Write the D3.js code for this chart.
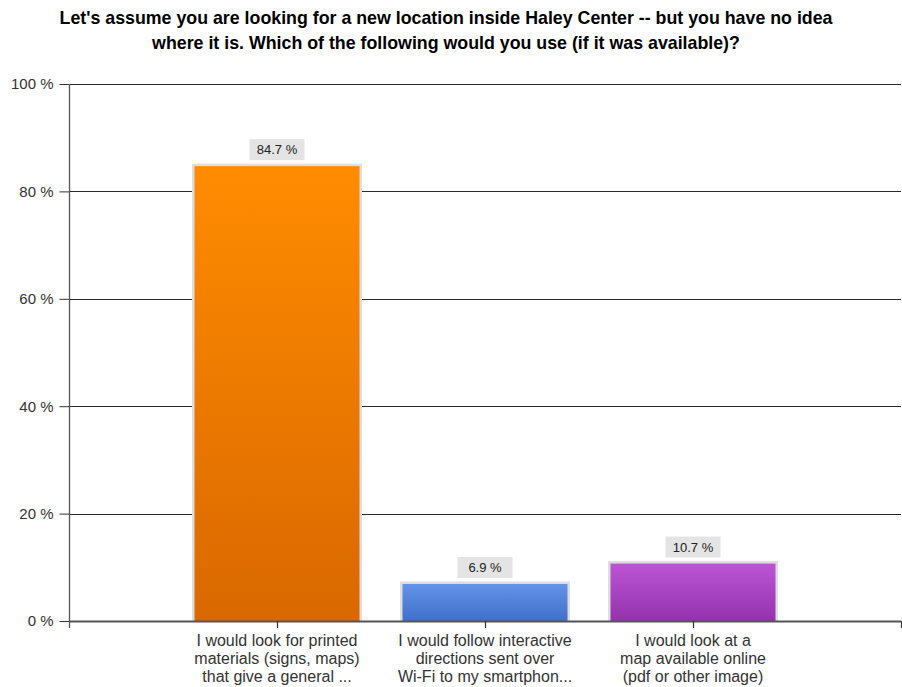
<!DOCTYPE html>
<html>
<head>
<meta charset="utf-8">
<script src="https://cdn.jsdelivr.net/npm/d3@7"></script>
<style>
  html, body { margin: 0; padding: 0; background: #fff; }
  svg { display: block; }
</style>
</head>
<body>
<svg id="chart" width="902" height="687"></svg>
<script>
const titleLines = [
  "Let's assume you are looking for a new location inside Haley Center -- but you have no idea",
  "where it is. Which of the following would you use (if it was available)?"
];
const categories = [
  ["I would look for printed", "materials (signs, maps)", "that give a general ..."],
  ["I would follow interactive", "directions sent over", "Wi-Fi to my smartphon..."],
  ["I would look at a", "map available online", "(pdf or other image)"]
];
const values = [84.7, 6.9, 10.7];
const yTicks = [0, 20, 40, 60, 80, 100];
const barTop = ["#ff8c00", "#6494e8", "#bb55d4"];
const barBottom = ["#d96800", "#3f6fc8", "#9432ad"];

const svg = d3.select("#chart");
const plotL = 69, plotR = 901, plotT = 84, plotB = 621;
const font = "Liberation Sans, Arial, sans-serif";

const ids = categories.map((c, i) => "c" + i);
const x = d3.scalePoint().domain(ids).range([plotL, plotR]).padding(1);
const y = d3.scaleLinear().domain([0, 100]).range([plotB, plotT]);
const barW = 165, rim = 2.5;

// vertical gradients for the bars
const defs = svg.append("defs");
ids.forEach((id, i) => {
  const g = defs.append("linearGradient").attr("id", "g" + i)
    .attr("x1", 0).attr("y1", 0).attr("x2", 0).attr("y2", 1);
  g.append("stop").attr("offset", "0%").attr("stop-color", barTop[i]);
  g.append("stop").attr("offset", "100%").attr("stop-color", barBottom[i]);
});

// title
svg.append("g").selectAll("text").data(titleLines).join("text")
  .attr("x", 446).attr("y", (d, i) => 24 + i * 25)
  .attr("text-anchor", "middle")
  .attr("font-family", font)
  .attr("font-weight", "bold").attr("font-size", 17.8)
  .attr("fill", "#000")
  .text(d => d);

// gridlines
svg.append("g").selectAll("line").data(yTicks.filter(t => t > 0)).join("line")
  .attr("x1", plotL).attr("x2", plotR)
  .attr("y1", d => Math.round(y(d)) + 0.5).attr("y2", d => Math.round(y(d)) + 0.5)
  .attr("stroke", "#2a2a2a").attr("stroke-width", 1.2);

// y axis
const yAxis = d3.axisLeft(y).tickValues(yTicks).tickSize(10).tickPadding(6)
  .tickFormat(d => d + " %");
const yg = svg.append("g").attr("transform", `translate(${plotL + 0.5},0)`).call(yAxis);
yg.select(".domain").remove();
yg.selectAll(".tick line").attr("stroke", "#333");
yg.selectAll(".tick text").attr("font-family", font)
  .attr("font-size", 15).attr("fill", "#333");
svg.append("line").attr("x1", plotL + 0.5).attr("x2", plotL + 0.5)
  .attr("y1", plotT).attr("y2", plotB + 7).attr("stroke", "#555").attr("stroke-width", 1.3);

// bars: light rim behind, gradient fill in front
const bars = svg.append("g");
bars.selectAll("rect.rim").data(values).join("rect").attr("class", "rim")
  .attr("x", (d, i) => x(ids[i]) - barW / 2 - rim)
  .attr("y", d => y(d) - rim)
  .attr("width", barW + 2 * rim)
  .attr("height", d => y(0) - y(d) + rim)
  .attr("fill", "#dedede");
bars.selectAll("rect.bar").data(values).join("rect").attr("class", "bar")
  .attr("x", (d, i) => x(ids[i]) - barW / 2)
  .attr("y", d => y(d))
  .attr("width", barW)
  .attr("height", d => y(0) - y(d))
  .attr("fill", (d, i) => `url(#g${i})`);

// baseline
svg.append("line").attr("x1", plotL).attr("x2", plotR)
  .attr("y1", plotB + 0.5).attr("y2", plotB + 0.5)
  .attr("stroke", "#555").attr("stroke-width", 2);

// x axis ticks
const xTickPos = ids.map(id => x(id)).concat([plotR]);
svg.append("g").selectAll("line").data(xTickPos).join("line")
  .attr("x1", d => Math.round(d) + 0.5).attr("x2", d => Math.round(d) + 0.5)
  .attr("y1", plotB).attr("y2", plotB + 7)
  .attr("stroke", "#333").attr("stroke-width", 1.2);

// category labels
const xl = svg.append("g");
categories.forEach((lines, i) => {
  xl.append("g").selectAll("text").data(lines).join("text")
    .attr("x", x(ids[i])).attr("y", (d, j) => 646 + j * 18)
    .attr("text-anchor", "middle")
    .attr("font-family", font)
    .attr("font-size", 16).attr("fill", "#333")
    .text(d => d);
});

// value labels
const vl = svg.append("g");
values.forEach((v, i) => {
  const cx = x(ids[i]);
  const by = y(v) - 27;
  vl.append("rect").attr("x", cx - 27.5).attr("y", by).attr("width", 55).attr("height", 21)
    .attr("fill", "#e4e4e4");
  vl.append("text").attr("x", cx).attr("y", by + 15)
    .attr("text-anchor", "middle")
    .attr("font-family", font)
    .attr("font-size", 13).attr("fill", "#222")
    .text(v.toFixed(1) + " %");
});
</script>
</body>
</html>
